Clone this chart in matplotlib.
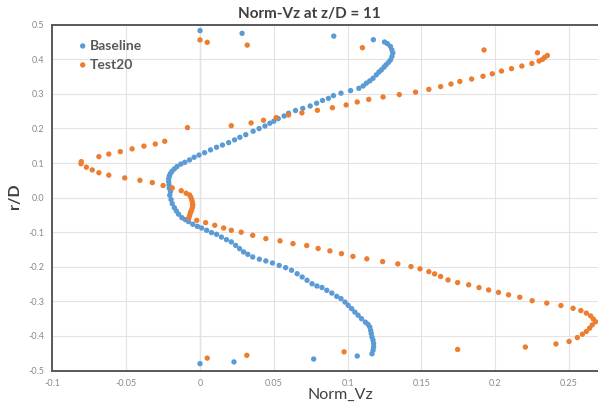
import matplotlib.pyplot as plt
from matplotlib.ticker import FixedLocator

plt.rcParams['font.family'] = ['Lato', 'DejaVu Sans']

# r/D vs Norm_Vz (x, r)
baseline_pts = [
    (0.0, 0.483), (0.0285, 0.475), (0.0906, 0.467), (0.1174, 0.4566),
    (0.125, 0.450), (0.127, 0.445), (0.129, 0.437), (0.130, 0.427), (0.1306, 0.418),
    (0.130, 0.408), (0.129, 0.398), (0.1277, 0.391), (0.126, 0.384), (0.1246, 0.377),
    (0.1228, 0.369), (0.1212, 0.363), (0.1194, 0.355), (0.1172, 0.345), (0.115, 0.3375),
    (0.1127, 0.331), (0.1105, 0.323), (0.1076, 0.316), (0.102, 0.3095), (0.0955, 0.302),
    (0.0904, 0.295), (0.087, 0.287), (0.083, 0.281), (0.079, 0.273), (0.0746, 0.265),
    (0.0696, 0.258), (0.0647, 0.252), (0.060, 0.244), (0.057, 0.236), (0.053, 0.2285),
    (0.050, 0.221), (0.0473, 0.215), (0.044, 0.207), (0.040, 0.1996), (0.036, 0.192),
    (0.031, 0.182), (0.027, 0.1745), (0.0234, 0.167), (0.0194, 0.159), (0.0152, 0.152),
    (0.0112, 0.1456), (0.0071, 0.138), (0.0031, 0.130), (-0.0007, 0.123), (-0.004, 0.1167),
    (-0.0071, 0.109), (-0.0103, 0.102), (-0.013, 0.097), (-0.0156, 0.0897), (-0.0174, 0.083),
    (-0.019, 0.076), (-0.020, 0.070), (-0.0208, 0.0627), (-0.0212, 0.055), (-0.0212, 0.046),
    (-0.021, 0.0366), (-0.0208, 0.027), (-0.020, 0.0174), (-0.0205, 0.0068), (-0.0196, -0.0058),
    (-0.0188, -0.0174), (-0.0174, -0.029), (-0.016, -0.0386), (-0.0145, -0.048), (-0.0123, -0.058),
    (-0.010, -0.0636), (-0.0078, -0.0694), (-0.0049, -0.077), (-0.0018, -0.083), (0.0011, -0.0878),
    (0.0045, -0.0945), (0.0078, -0.101), (0.0112, -0.106), (0.0145, -0.114), (0.0179, -0.1215),
    (0.0212, -0.128), (0.0241, -0.138), (0.0268, -0.1475), (0.0295, -0.157), (0.0324, -0.164),
    (0.0357, -0.1716), (0.0402, -0.178), (0.0446, -0.183), (0.0491, -0.189), (0.0536, -0.196),
    (0.058, -0.2025), (0.062, -0.210), (0.0658, -0.220), (0.0692, -0.2295), (0.0725, -0.239),
    (0.0759, -0.249), (0.0792, -0.2555), (0.0826, -0.260), (0.0859, -0.268), (0.0893, -0.276),
    (0.0926, -0.2855), (0.0955, -0.292), (0.0982, -0.302), (0.1004, -0.3115), (0.1027, -0.321),
    (0.1049, -0.331), (0.1071, -0.340), (0.1094, -0.350), (0.112, -0.360), (0.1138, -0.3665),
    (0.115, -0.374), (0.1156, -0.384), (0.116, -0.393), (0.1165, -0.403), (0.1172, -0.412),
    (0.1176, -0.422), (0.1176, -0.432), (0.1172, -0.4417), (0.1165, -0.4515),
    (0.1065, -0.458), (0.077, -0.4667), (0.023, -0.475), (0.0, -0.480),
]

test20_pts = [
    (0.0, 0.456), (0.0049, 0.449), (0.032, 0.441), (0.110, 0.4335), (0.1924, 0.427), (0.2286, 0.419),
    (0.2353, 0.411), (0.2335, 0.4056), (0.232, 0.400), (0.2297, 0.395), (0.2248, 0.388),
    (0.218, 0.3805), (0.211, 0.373), (0.2042, 0.366), (0.198, 0.358), (0.1917, 0.351),
    (0.184, 0.343), (0.176, 0.336), (0.170, 0.3285), (0.163, 0.321), (0.155, 0.313),
    (0.146, 0.305), (0.135, 0.298), (0.124, 0.291), (0.1143, 0.284), (0.1065, 0.2765),
    (0.099, 0.268), (0.0897, 0.260), (0.0795, 0.2526), (0.069, 0.245), (0.060, 0.239),
    (0.0516, 0.2314), (0.043, 0.2237), (0.0346, 0.216), (0.0212, 0.208), (-0.0085, 0.2025),
    (-0.0239, 0.163), (-0.0303, 0.155), (-0.038, 0.149), (-0.046, 0.141), (-0.054, 0.133),
    (-0.0618, 0.126), (-0.0685, 0.1185), (-0.0804, 0.104), (-0.0806, 0.098),
    (-0.077, 0.088), (-0.073, 0.080), (-0.0685, 0.072), (-0.0618, 0.065), (-0.051, 0.057),
    (-0.0407, 0.050), (-0.0323, 0.0435), (-0.025, 0.035), (-0.0188, 0.028), (-0.0127, 0.020),
    (-0.0094, 0.0127), (-0.0071, 0.0078), (-0.0062, 0.001), (-0.0056, -0.0066), (-0.0051, -0.0145),
    (-0.0049, -0.021), (-0.0051, -0.0277), (-0.0056, -0.035), (-0.0062, -0.040), (-0.0065, -0.045),
    (-0.0071, -0.0526), (-0.0076, -0.059), (-0.0022, -0.0656), (0.0038, -0.0723), (0.010, -0.080),
    (0.016, -0.0878), (0.0212, -0.0945), (0.0279, -0.100), (0.0357, -0.109), (0.0446, -0.1186),
    (0.0542, -0.125), (0.063, -0.133), (0.0723, -0.1386), (0.080, -0.147), (0.088, -0.154),
    (0.0958, -0.162), (0.1036, -0.170), (0.113, -0.177), (0.1237, -0.185), (0.134, -0.1916),
    (0.1429, -0.1993), (0.149, -0.206), (0.155, -0.214), (0.1589, -0.2205), (0.163, -0.228),
    (0.168, -0.238), (0.1745, -0.2456), (0.182, -0.252), (0.189, -0.260), (0.1955, -0.267),
    (0.2022, -0.274), (0.209, -0.281), (0.2166, -0.288), (0.225, -0.298), (0.2349, -0.305),
    (0.2445, -0.312), (0.2527, -0.320), (0.258, -0.3266), (0.2617, -0.334), (0.2646, -0.342),
    (0.2664, -0.351), (0.268, -0.359), (0.2657, -0.368), (0.2639, -0.3775), (0.2617, -0.387),
    (0.259, -0.395), (0.2556, -0.4046), (0.250, -0.416), (0.2411, -0.423),
    (0.2204, -0.432), (0.1745, -0.439), (0.0976, -0.446), (0.0317, -0.456), (0.0049, -0.464),
]

x_ticks = [-0.1, -0.05, 0, 0.05, 0.1, 0.15, 0.2, 0.25]
x_labels = ["-0.1", "-0.05", "0", "0.05", "0.1", "0.15", "0.2", "0.25"]
y_ticks = [0.5, 0.4, 0.3, 0.2, 0.1, 0.0, -0.1, -0.2, -0.3, -0.4, -0.5]
y_labels = ["0.5", "0.4", "0.3", "0.2", "0.1", "0.0", "-0.1", "-0.2", "-0.3", "-0.4", "-0.5"]

blue = "#5B9BD5"
orange = "#ED7D31"
dark = "#595959"

fig = plt.figure(figsize=(5.98, 4.09), dpi=100)
ax = fig.add_axes([0.0876, 0.094, 1.0 - 0.0876, 0.9396 - 0.094])

bx, by = zip(*baseline_pts)
tx, ty = zip(*test20_pts)
ax.scatter(bx, by, s=15, color=blue, edgecolors="none", label="Baseline", zorder=3)
ax.scatter(tx, ty, s=15, color=orange, edgecolors="none", label="Test20", zorder=3)

ax.set_xlim(-0.1, 0.2696)
ax.set_ylim(-0.5, 0.5)
ax.xaxis.set_major_locator(FixedLocator(x_ticks))
ax.set_xticklabels(x_labels)
ax.yaxis.set_major_locator(FixedLocator(y_ticks))
ax.set_yticklabels(y_labels)
ax.tick_params(length=0, labelsize=6.5, labelcolor="#8a8a8a", pad=6)

ax.grid(True, color="#e3e3e3", linewidth=0.8, zorder=0)
ax.axvline(0, color="#c8c8c8", linewidth=0.9, zorder=1)
for s in ["left", "bottom", "top"]:
    ax.spines[s].set_color(dark)
    ax.spines[s].set_linewidth(1.4)
ax.spines["right"].set_visible(False)

fig.text(0.518, 0.966, "Norm-Vz at z/D = 11", ha="center", va="center",
         fontsize=11, fontweight="bold", color="#404040")
fig.text(0.025, 0.52, "r/D", ha="center", va="center", rotation=90,
         fontsize=11.5, fontweight="bold", color="#404040")
fig.text(0.569, 0.034, "Norm_Vz", ha="center", va="center",
         fontsize=11.5, color="#404040")

leg = ax.legend(loc="upper left", bbox_to_anchor=(0.025, 0.985), frameon=False,
                handletextpad=0.0, labelspacing=0.5, borderpad=0.2,
                handlelength=1.0, prop={"weight": "bold", "size": 10})
for t in leg.get_texts():
    t.set_color(dark)

fig.savefig("out.png", dpi=100)
